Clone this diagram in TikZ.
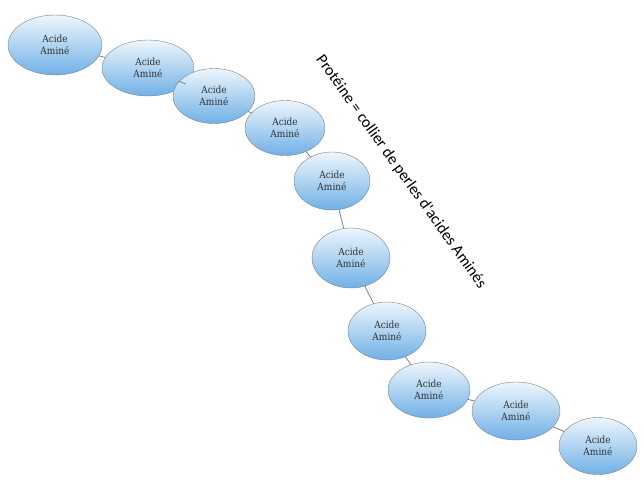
\documentclass[tikz,border=0pt]{standalone}
\usepackage{fontspec}
\setmainfont{DejaVu Serif Condensed}
\newfontfamily\labelfont{Carlito}
\usetikzlibrary{shapes.geometric}

\definecolor{beadtop}{RGB}{238,246,252}
\definecolor{beadbot}{RGB}{112,176,230}
\definecolor{beadline}{RGB}{120,130,140}

\begin{document}
\begin{tikzpicture}[x=1pt,y=-1pt,
  bead/.style={ellipse,draw=beadline,thin,top color=beadtop,bottom color=beadbot,
    minimum width=86pt,minimum height=56pt,inner sep=0pt,align=center,
    font=\fontsize{10}{12}\selectfont,text=black!80},
  link/.style={draw=beadline,thick}]
\useasboundingbox (0,0) rectangle (644,488);

\node [bead,minimum width=94pt,minimum height=60pt] (a1) at (55,45) {Acide\\Aminé};
\node [bead,minimum width=92pt,minimum height=56pt] (a2) at (148,68) {Acide\\Aminé};
\node [bead,minimum width=82pt,minimum height=55pt] (a3) at (214,96) {Acide\\Aminé};
\node [bead,minimum width=80pt,minimum height=55pt] (a4) at (285,128) {Acide\\Aminé};
\node [bead,minimum width=76pt,minimum height=58pt] (a5) at (332,181) {Acide\\Aminé};
\node [bead,minimum width=78pt,minimum height=60pt] (a6) at (351,258) {Acide\\Aminé};
\node [bead,minimum width=78pt,minimum height=58pt] (a7) at (387,331) {Acide\\Aminé};
\node [bead,minimum width=82pt,minimum height=56pt] (a8) at (429,390) {Acide\\Aminé};
\node [bead,minimum width=88pt,minimum height=58pt] (a9) at (516,411) {Acide\\Aminé};
\node [bead,minimum width=78pt,minimum height=57pt] (a10) at (598,446) {Acide\\Aminé};

\foreach \i/\j in {1/2,2/3,3/4,4/5,5/6,6/7,7/8,8/9,9/10}
  \draw [link] (a\i) -- (a\j);

\node [rotate=-54.5,font=\labelfont\fontsize{16}{17}\selectfont] (lbl) at (401,172)
  {Protéine = collier de perles d'acides Aminés};
\end{tikzpicture}
\end{document}
